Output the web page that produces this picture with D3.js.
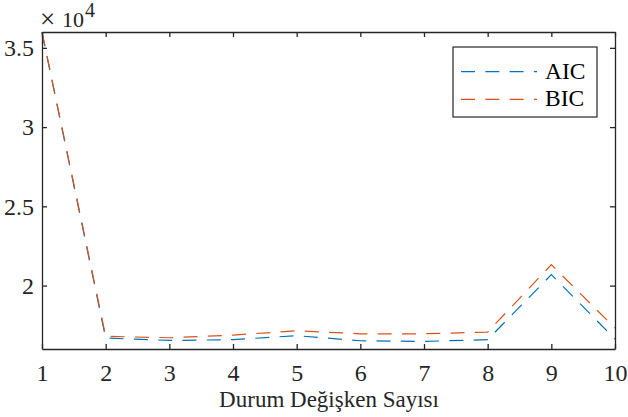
<!DOCTYPE html>
<html>
<head>
<meta charset="utf-8">
<script src="https://cdn.jsdelivr.net/npm/d3@7"></script>
<style>
  body { margin: 0; background: white; }
  svg { display: block; }
  svg text { font-family: 'Liberation Serif', 'Times New Roman', Times, serif; }
</style>
</head>
<body>
<div id="chart"></div>
<script>
/* DATA */
const states = [1, 2, 3, 4, 5, 6, 7, 8, 9, 10];
const aic = [35960, 16690, 16540, 16590, 16840, 16520, 16480, 16590, 20690, 16630];
const bic = [36000, 16800, 16710, 16880, 17150, 16960, 16960, 17070, 21320, 17320];
const yTicks = [20000, 25000, 30000, 35000];
const seriesNames = ['AIC', 'BIC'];

/* CONSTANTS */
const width = 628;
const height = 417;
const margin = { top: 32, right: 13, bottom: 68, left: 42 };
const axisColor = '#262626';
const colors = ['#0072BD', '#D95319'];
const font = "'Liberation Serif', 'Times New Roman', Times, serif";
const dash = '14,10.3';

const svg = d3.select('#chart')
  .append('svg')
  .attr('width', width)
  .attr('height', height)
  .style('background-color', 'white');

const xScale = d3.scaleLinear()
  .domain([1, 10])
  .range([margin.left, width - margin.right]);

const yScale = d3.scaleLinear()
  .domain([16000, 36000])
  .range([height - margin.bottom, margin.top]);

const x0 = margin.left, x1 = width - margin.right;
const y0 = height - margin.bottom, y1 = margin.top;

// lines
const line = d3.line()
  .x((d, i) => xScale(states[i]))
  .y(d => yScale(d));

[aic, bic].forEach((s, k) => {
  svg.append('path')
    .datum(s)
    .attr('fill', 'none')
    .attr('stroke', colors[k])
    .attr('stroke-width', 1.2)
    .attr('stroke-dasharray', dash)
    .attr('d', line);
});

// axes (box with inward ticks)
svg.append('g')
  .attr('transform', `translate(0,${y0})`)
  .call(d3.axisBottom(xScale).tickValues(states).tickSizeInner(-5).tickSizeOuter(0).tickPadding(15))
  .call(g => g.selectAll('text').style('font-size', '24px').style('font-family', font).attr('fill', axisColor));

svg.append('g')
  .attr('transform', `translate(0,${y1})`)
  .call(d3.axisTop(xScale).tickValues(states).tickSizeInner(-5).tickSizeOuter(0).tickFormat(''));

svg.append('g')
  .attr('transform', `translate(${x0},0)`)
  .call(d3.axisLeft(yScale).tickValues(yTicks).tickSizeInner(-5).tickSizeOuter(0).tickPadding(8)
    .tickFormat(d => d3.format('')(d / 10000)))
  .call(g => g.selectAll('text').style('font-size', '24px').style('font-family', font).attr('fill', axisColor));

svg.append('g')
  .attr('transform', `translate(${x1},0)`)
  .call(d3.axisRight(yScale).tickValues(yTicks).tickSizeInner(-5).tickSizeOuter(0).tickFormat(''));

svg.selectAll('.domain, .tick line')
  .attr('stroke', axisColor)
  .attr('stroke-width', 1.3);

// exponent label (x10^4)
const expo = svg.append('g')
  .attr('fill', axisColor)
  .style('font-family', font);
expo.append('text').attr('x', 40).attr('y', 28).style('font-size', '27px').text('\u00d7');
expo.append('text').attr('x', 62).attr('y', 27).style('font-size', '22px').text('10');
expo.append('text').attr('x', 85).attr('y', 17).style('font-size', '20px').text('4');

// x axis label
svg.append('text')
  .attr('x', (x0 + x1) / 2 + 0.5)
  .attr('y', 407)
  .attr('text-anchor', 'middle')
  .style('font-family', font)
  .style('font-size', '23px')
  .attr('fill', axisColor)
  .text('Durum Değişken Sayısı');

// legend
const legend = svg.append('g');
legend.append('rect')
  .attr('x', 453).attr('y', 47)
  .attr('width', 144).attr('height', 70)
  .attr('fill', 'white')
  .attr('stroke', axisColor)
  .attr('stroke-width', 1.2);

seriesNames.forEach((name, k) => {
  const ly = 71.7 + k * 27.6;
  legend.append('line')
    .attr('x1', 461).attr('x2', 537)
    .attr('y1', ly).attr('y2', ly)
    .attr('stroke', colors[k])
    .attr('stroke-width', 1.2)
    .attr('stroke-dasharray', dash);
  legend.append('text')
    .attr('x', 545).attr('y', ly + 7)
    .style('font-family', font)
    .style('font-size', '23.5px')
    .attr('fill', '#000')
    .text(name);
});
</script>
</body>
</html>
